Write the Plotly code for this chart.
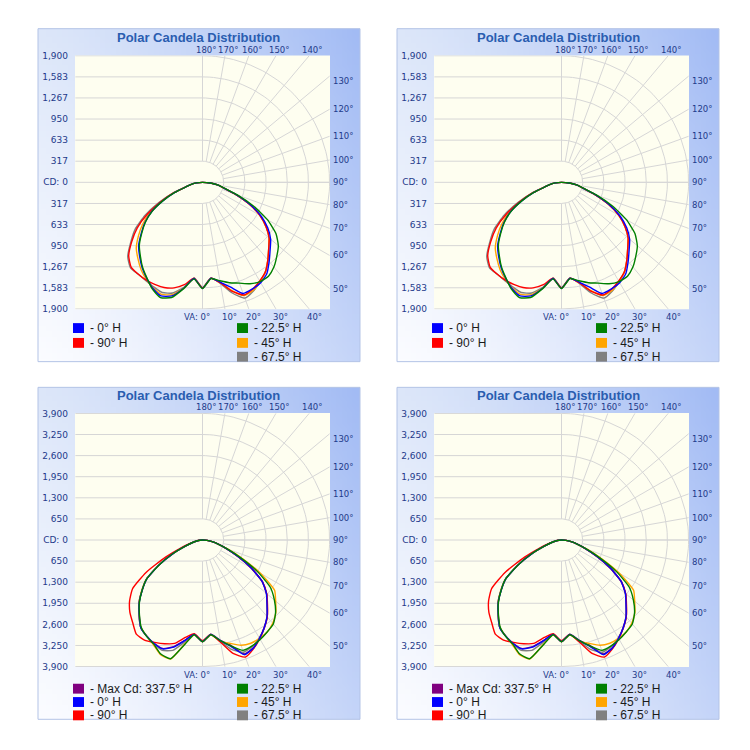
import math, zlib, struct, base64
import plotly.graph_objects as go

# ---------------- data ----------------
ANG = [0, 5, 10, 15, 20, 25, 30, 35, 40, 45, 50, 55, 60, 65, 70, 75, 80, 85, 90]

A_MAX = 1900
A_TICKS = [0, 317, 633, 950, 1267, 1583, 1900]
A_TICK_TEXT = ["CD: 0", "317", "633", "950", "1,267", "1,583", "1,900"]
A_H0_L   = [1594,1450,1615,1765,1815,1755,1665,1570,1460,1350,1195,1050,875,650,440,250,170,90,0]
A_H0_R   = [1594,1445,1520,1630,1775,1765,1740,1675,1550,1430,1330,1190,1010,780,530,330,240,120,0]
A_H90_L  = [1585,1445,1560,1640,1680,1690,1690,1680,1660,1560,1380,1190,950,690,455,255,170,90,0]
A_H90_R  = [1590,1445,1530,1690,1800,1770,1710,1640,1520,1400,1300,1160,990,770,525,330,240,120,0]
A_H225_L = [1594,1455,1620,1790,1840,1770,1660,1560,1445,1335,1185,1040,870,650,440,250,170,90,0]
A_H225_R = [1594,1450,1500,1560,1610,1680,1720,1720,1660,1570,1480,1340,1120,840,560,340,240,120,0]
A_H45_L  = [1590,1450,1610,1745,1790,1745,1680,1600,1500,1400,1250,1090,900,665,445,250,170,90,0]
A_H45_R  = [1594,1445,1530,1680,1810,1790,1720,1640,1520,1400,1300,1160,990,770,525,330,240,120,0]
A_H675_L = [1580,1440,1600,1720,1760,1730,1700,1680,1675,1580,1400,1230,990,720,470,255,170,90,0]
A_H675_R = [1590,1440,1540,1720,1850,1800,1720,1640,1520,1400,1300,1160,990,770,525,330,240,120,0]

B_MAX = 3900
B_TICKS = [0, 650, 1300, 1950, 2600, 3250, 3900]
B_TICK_TEXT = ["CD: 0", "650", "1,300", "1,950", "2,600", "3,250", "3,900"]
B_MAXCD_L = [3130,2915,3140,3400,3560,3510,3420,3300,3030,2760,2420,2080,1540,1010,560,330,180,80,0]
B_MAXCD_R = [3130,2915,3140,3360,3740,3670,3500,3310,3090,2810,2560,2230,1720,1200,780,500,300,140,0]
B_H0_L   = [3135,2920,3150,3420,3570,3520,3420,3300,3020,2750,2420,2090,1550,1010,560,330,180,80,0]
B_H0_R   = [3135,2920,3150,3400,3760,3680,3500,3300,3080,2800,2560,2240,1730,1200,780,500,300,140,0]
B_H90_L  = [3100,2900,3050,3300,3400,3480,3560,3540,3330,3150,2920,2620,2000,1250,700,380,200,85,0]
B_H90_R  = [3130,2920,3200,3620,3840,3700,3510,3300,3090,2820,2570,2250,1740,1210,780,500,300,140,0]
B_H225_L = [3135,2930,3300,3790,3740,3540,3430,3280,3010,2740,2420,2090,1540,1020,560,330,180,80,0]
B_H225_R = [3135,2930,3150,3380,3620,3600,3540,3460,3380,3170,2880,2540,1950,1300,820,510,300,140,0]
B_H45_L  = [3135,2930,3280,3800,3760,3560,3420,3290,3020,2760,2440,2100,1550,1020,560,330,180,80,0]
B_H45_R  = [3135,2930,3170,3300,3450,3510,3500,3460,3350,3180,2930,2700,2050,1350,830,510,300,140,0]
B_H675_L = [3135,2920,3200,3520,3620,3530,3420,3300,3030,2760,2430,2100,1550,1030,560,330,180,80,0]
B_H675_R = [3135,2920,3170,3500,3680,3620,3480,3300,3080,2800,2560,2240,1730,1200,780,500,300,140,0]

TITLE = "Polar Candela Distribution"
TOP_ANGLES = [180, 170, 160, 150, 140]
RIGHT_ANGLES = [130, 120, 110, 100, 90, 80, 70, 60, 50]
BOTTOM_ANGLES = [0, 10, 20, 30, 40]

COL = {"max": "#800080", "h0": "#0000ff", "h90": "#ff0000",
       "h225": "#008000", "h45": "#ffa500", "h675": "#808080"}

SERIES_A = [  # (key, label, left, right)
    ("h675", "- 67.5° H", A_H675_L, A_H675_R),
    ("h45", "- 45° H", A_H45_L, A_H45_R),
    ("h90", "- 90° H", A_H90_L, A_H90_R),
    ("h0", "- 0° H", A_H0_L, A_H0_R),
    ("h225", "- 22.5° H", A_H225_L, A_H225_R),
]
SERIES_B = [
    ("max", "- Max Cd: 337.5° H", B_MAXCD_L, B_MAXCD_R),
    ("h675", "- 67.5° H", B_H675_L, B_H675_R),
    ("h45", "- 45° H", B_H45_L, B_H45_R),
    ("h90", "- 90° H", B_H90_L, B_H90_R),
    ("h0", "- 0° H", B_H0_L, B_H0_R),
    ("h225", "- 22.5° H", B_H225_L, B_H225_R),
]
LEGEND_A = ([("h0", "- 0° H"), ("h90", "- 90° H")],
            [("h225", "- 22.5° H"), ("h45", "- 45° H"), ("h675", "- 67.5° H")])
LEGEND_B = ([("max", "- Max Cd: 337.5° H"), ("h0", "- 0° H"), ("h90", "- 90° H")],
            [("h225", "- 22.5° H"), ("h45", "- 45° H"), ("h675", "- 67.5° H")])

# ---------------- layout geometry (pixels) ----------------
W = H = 750
PANELS = [
    dict(frame=(38, 25, 360, 362), plot=(75, 52, 330, 309), kind="A", rows=(328, 343, 357), title_y=34),
    dict(frame=(397, 25, 719, 362), plot=(434, 52, 689, 309), kind="A", rows=(328, 343, 357), title_y=34),
    dict(frame=(38, 388, 360, 724), plot=(75, 414, 330, 671), kind="B", rows=(693, 706.5, 720), title_y=396),
    dict(frame=(397, 388, 719, 724), plot=(434, 414, 689, 671), kind="B", rows=(693, 706.5, 720), title_y=396),
]

LABEL_COLOR = "#1e3a8a"
TICK_FONT = dict(family="DejaVu Sans", size=9, color=LABEL_COLOR)
ANGLE_FONT = dict(family="DejaVu Sans", size=8.5, color=LABEL_COLOR)
GRID_COLOR = "#d6d6d6"


def px(x):
    return x / W


def py(y):
    return 1 - y / H


def gradient_png(w, h, tl, tr, bl, br):
    rows = []
    for j in range(h):
        v = j / (h - 1)
        row = bytearray([0])
        for i in range(w):
            u = (i / (w - 1)) ** 1.3
            for k in range(3):
                c = tl[k] * (1 - u) * (1 - v) + tr[k] * u * (1 - v) + bl[k] * (1 - u) * v + br[k] * u * v
                row.append(max(0, min(255, int(round(c)))))
        rows.append(bytes(row))
    raw = b"".join(rows)

    def chunk(t, d):
        c = struct.pack(">I", len(d)) + t + d
        return c + struct.pack(">I", zlib.crc32(t + d) & 0xffffffff)

    data = (b"\x89PNG\r\n\x1a\n" + chunk(b"IHDR", struct.pack(">IIBBBBB", w, h, 8, 2, 0, 0, 0))
            + chunk(b"IDAT", zlib.compress(raw, 9)) + chunk(b"IEND", b""))
    return "data:image/png;base64," + base64.b64encode(data).decode()


GRAD = gradient_png(60, 60, (0xdc, 0xe6, 0xf9), (0xa2, 0xbb, 0xf4), (0xfb, 0xfc, 0xff), (0xc4, 0xd4, 0xf8))

fig = go.Figure()
layout = dict(width=W, height=H, margin=dict(l=0, r=0, t=0, b=0),
              paper_bgcolor="white", plot_bgcolor="rgba(0,0,0,0)", showlegend=False)
shapes, annotations, images = [], [], []

for idx, p in enumerate(PANELS, start=1):
    fx0, fy0, fx1, fy1 = p["frame"]
    x0, y0, x1, y1 = p["plot"]
    R = A_MAX if p["kind"] == "A" else B_MAX
    ticks = A_TICKS if p["kind"] == "A" else B_TICKS
    ttext = A_TICK_TEXT if p["kind"] == "A" else B_TICK_TEXT
    series = SERIES_A if p["kind"] == "A" else SERIES_B
    legend = LEGEND_A if p["kind"] == "A" else LEGEND_B
    xa = "x" if idx == 1 else f"x{idx}"
    ya = "y" if idx == 1 else f"y{idx}"
    xkey = "xaxis" if idx == 1 else f"xaxis{idx}"
    ykey = "yaxis" if idx == 1 else f"yaxis{idx}"

    # frame
    images.append(dict(source=GRAD, xref="paper", yref="paper", x=px(fx0), y=py(fy0),
                       sizex=px(fx1 - fx0), sizey=(fy1 - fy0) / H, sizing="stretch",
                       xanchor="left", yanchor="top", layer="below"))
    shapes.append(dict(type="rect", xref="paper", yref="paper", x0=px(fx0), x1=px(fx1),
                       y0=py(fy1), y1=py(fy0), line=dict(color="#b3c3e6", width=1),
                       fillcolor="rgba(0,0,0,0)", layer="below"))
    shapes.append(dict(type="rect", xref="paper", yref="paper", x0=px(x0), x1=px(x1),
                       y0=py(y1), y1=py(y0), line=dict(width=0), fillcolor="#fefef0", layer="below"))

    pad = R * 0.003
    layout[xkey] = dict(domain=[px(x0), px(x1)], range=[-R - pad, R + pad], visible=False,
                        anchor=ya, fixedrange=True)
    tv, tt = [], []
    for v, t in zip(ticks, ttext):
        tv.append(v); tt.append(t)
        if v:
            tv.append(-v); tt.append(t)
    layout[ykey] = dict(domain=[py(y1), py(y0)], range=[-R - pad, R + pad], anchor=xa,
                        tickvals=tv, ticktext=tt, showgrid=False, zeroline=False, showline=False,
                        ticks="", tickfont=TICK_FONT, ticklabelstandoff=6, fixedrange=True)

    # grid
    gx, gy = [], []
    for v in ticks[1:]:
        for s in (1, -1):
            gx += [-R, 0, None]; gy += [s * v, s * v, None]
    gx += [-R, R, None]; gy += [0, 0, None]
    for v in ticks[1:]:
        for k in range(0, 181, 2):
            a = math.radians(k)
            gx.append(v * math.sin(a)); gy.append(-v * math.cos(a))
        gx.append(None); gy.append(None)
    r0 = ticks[1]
    for a_deg in range(0, 181, 10):
        a = math.radians(a_deg)
        sx, sy = math.sin(a), -math.cos(a)
        s = R / max(abs(sx), abs(sy))
        gx += [r0 * sx, s * sx, None]; gy += [r0 * sy, s * sy, None]
    fig.add_trace(go.Scatter(x=gx, y=gy, mode="lines", line=dict(color=GRID_COLOR, width=1),
                             hoverinfo="skip", xaxis=xa, yaxis=ya))

    # curves
    for key, label, left, right in series:
        cx, cy = [], []
        for a_deg, v in zip(reversed(ANG), reversed(left)):
            a = math.radians(a_deg)
            cx.append(-v * math.sin(a)); cy.append(-v * math.cos(a))
        for a_deg, v in zip(ANG[1:], right[1:]):
            a = math.radians(a_deg)
            cx.append(v * math.sin(a)); cy.append(-v * math.cos(a))
        fig.add_trace(go.Scatter(x=cx, y=cy, mode="lines", name=label,
                                 line=dict(color=COL[key], width=1.4, shape="spline", smoothing=0.5),
                                 xaxis=xa, yaxis=ya))

    # angle labels
    for a_deg in TOP_ANGLES:
        a = math.radians(a_deg)
        annotations.append(dict(xref=xa, yref=ya, x=R * math.sin(a) / (-math.cos(a)), y=R,
                                text=f"{a_deg}°", showarrow=False, xanchor="center", yanchor="bottom",
                                xshift=3, yshift=-1, font=ANGLE_FONT))
    for a_deg in RIGHT_ANGLES:
        a = math.radians(a_deg)
        annotations.append(dict(xref=xa, yref=ya, x=R, y=-R * math.cos(a) / math.sin(a),
                                text=f"{a_deg}°", showarrow=False, xanchor="left", yanchor="middle",
                                xshift=1, yshift=(-5 if a_deg == 130 else 0), font=ANGLE_FONT))
    for a_deg in BOTTOM_ANGLES:
        a = math.radians(a_deg)
        if a_deg == 0:
            annotations.append(dict(xref=xa, yref=ya, x=0, y=-R, text="VA: 0°", showarrow=False,
                                    xanchor="right", yanchor="top", xshift=9, yshift=-1, font=ANGLE_FONT))
        else:
            annotations.append(dict(xref=xa, yref=ya, x=R * math.tan(a), y=-R, text=f"{a_deg}°",
                                    showarrow=False, xanchor="center", yanchor="top", xshift=5,
                                    yshift=-1, font=ANGLE_FONT))

    # title
    annotations.append(dict(xref="paper", yref="paper", x=px((fx0 + fx1) / 2), y=py(p["title_y"]),
                            text=f"<b>{TITLE}</b>", showarrow=False, xanchor="center", yanchor="middle",
                            font=dict(family="Liberation Sans", size=13, color="#2a5db0")))

    # legend
    for col_i, col in enumerate(legend):
        sx0 = fx0 + (35 if col_i == 0 else 199)
        for (key, label), ry in zip(col, p["rows"]):
            shapes.append(dict(type="rect", xref="paper", yref="paper", x0=px(sx0), x1=px(sx0 + 11),
                               y0=py(ry + 5), y1=py(ry - 5), line=dict(width=0), fillcolor=COL[key],
                               layer="above"))
            annotations.append(dict(xref="paper", yref="paper", x=px(sx0 + 15), y=py(ry), text=label,
                                    showarrow=False, xanchor="left", yanchor="middle",
                                    font=dict(family="Liberation Sans", size=12, color="#1a1a1a")))

layout["shapes"] = shapes
layout["annotations"] = annotations
layout["images"] = images
fig.update_layout(**layout)
fig.write_html("out.html")
